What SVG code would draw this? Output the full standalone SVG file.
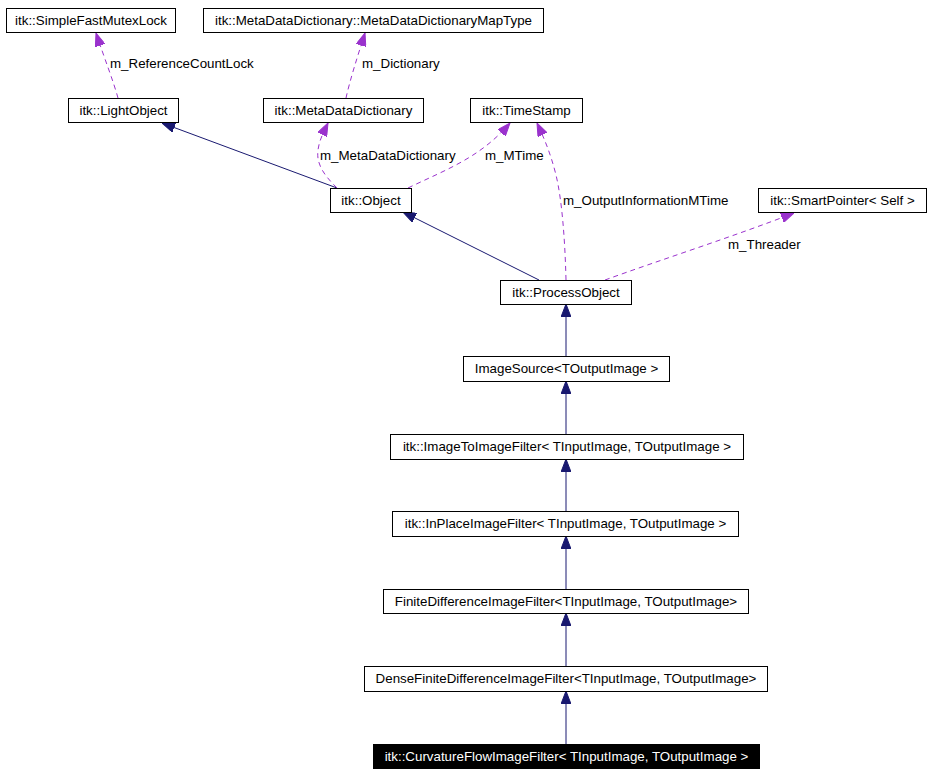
<svg xmlns="http://www.w3.org/2000/svg" width="931" height="773" viewBox="0 0 931 773">
<style>
.n rect{fill:#fff;stroke:#000;stroke-width:1}
.n text{font-family:"Liberation Sans",Arial,sans-serif;font-size:13.33px;fill:#000;text-anchor:middle}
.cur rect{fill:#000;stroke:#000}
.cur text{fill:#fff}
.inh{fill:none;stroke:#191970;stroke-width:1;marker-end:url(#an)}
.use{fill:none;stroke:#9a32cd;stroke-width:1;stroke-dasharray:5,4;marker-end:url(#ap)}
.lbl{font-family:"Liberation Sans",Arial,sans-serif;font-size:13.33px;fill:#000}
</style>
<defs>
<marker id="an" viewBox="0 0 13 10" markerWidth="13" markerHeight="10" refX="13" refY="5" orient="auto" markerUnits="userSpaceOnUse"><path d="M0,0 L13,5 L0,10 z" fill="#191970" stroke="#191970"/></marker>
<marker id="ap" viewBox="0 0 13 10" markerWidth="13" markerHeight="10" refX="13" refY="5" orient="auto" markerUnits="userSpaceOnUse"><path d="M0,0 L13,5 L0,10 z" fill="#9a32cd" stroke="#9a32cd"/></marker>
</defs>
<g id="edges">
<path class="use" d="M118,98 C113,80 105,60 96,33"/>
<path class="use" d="M346,98 C350,80 357,58 365,33"/>
<path class="inh" d="M337,188 L162,123"/>
<path class="use" d="M337,188 C325,176 316,165 318,150 C319,142 322,135 328,123"/>
<path class="use" d="M408,188 C445,170 480,158 510,123"/>
<path class="use" d="M566,280 C565,240 562,200 556,175 C551,155 545,140 537,123"/>
<path class="inh" d="M539,280 L403,212"/>
<path class="use" d="M605,280 C660,260 735,236 794,213"/>
<path class="inh" d="M566,356 L566,304"/>
<path class="inh" d="M566,434 L566,381"/>
<path class="inh" d="M566,511 L566,459"/>
<path class="inh" d="M566,589 L566,536"/>
<path class="inh" d="M566,666 L566,613"/>
<path class="inh" d="M566,744 L566,691"/>
<text class="lbl" x="110" y="68">m_ReferenceCountLock</text>
<text class="lbl" x="362" y="68">m_Dictionary</text>
<text class="lbl" x="320" y="160">m_MetaDataDictionary</text>
<text class="lbl" x="485" y="160">m_MTime</text>
<text class="lbl" x="563" y="205">m_OutputInformationMTime</text>
<text class="lbl" x="728" y="249">m_Threader</text>
</g>
<g id="n_sfml" class="n"><rect x="6.5" y="8.5" width="169" height="24"/><text x="91" y="25">itk::SimpleFastMutexLock</text></g>
<g id="n_maptype" class="n"><rect x="203.5" y="8.5" width="340" height="24"/><text x="373.5" y="25">itk::MetaDataDictionary::MetaDataDictionaryMapType</text></g>
<g id="n_lightobject" class="n"><rect x="68.5" y="98.5" width="110" height="24"/><text x="123.5" y="115">itk::LightObject</text></g>
<g id="n_mdd" class="n"><rect x="263.5" y="98.5" width="160" height="24"/><text x="343.5" y="115">itk::MetaDataDictionary</text></g>
<g id="n_timestamp" class="n"><rect x="470.5" y="98.5" width="112" height="24"/><text x="526.5" y="115">itk::TimeStamp</text></g>
<g id="n_object" class="n"><rect x="330.5" y="188.5" width="81" height="24"/><text x="371" y="205">itk::Object</text></g>
<g id="n_smartpointer" class="n"><rect x="758.5" y="188.5" width="168" height="24"/><text x="842.5" y="205">itk::SmartPointer&lt; Self &gt;</text></g>
<g id="n_processobject" class="n"><rect x="500.5" y="280.5" width="131" height="24"/><text x="566" y="297">itk::ProcessObject</text></g>
<g id="n_imagesource" class="n"><rect x="463.5" y="356.5" width="206" height="25"/><text x="566.5" y="373">ImageSource&lt;TOutputImage &gt;</text></g>
<g id="n_imagetoimage" class="n"><rect x="390.5" y="434.5" width="353" height="25"/><text x="567" y="451">itk::ImageToImageFilter&lt; TInputImage, TOutputImage &gt;</text></g>
<g id="n_inplace" class="n"><rect x="392.5" y="511.5" width="346" height="25"/><text x="565.5" y="528">itk::InPlaceImageFilter&lt; TInputImage, TOutputImage &gt;</text></g>
<g id="n_finitediff" class="n"><rect x="383.5" y="589.5" width="365" height="24"/><text x="566" y="606">FiniteDifferenceImageFilter&lt;TInputImage, TOutputImage&gt;</text></g>
<g id="n_densefinitediff" class="n"><rect x="364.5" y="666.5" width="403" height="25"/><text x="566" y="683">DenseFiniteDifferenceImageFilter&lt;TInputImage, TOutputImage&gt;</text></g>
<g id="n_curvatureflow" class="n cur"><rect x="373.5" y="744.5" width="386" height="24"/><text x="566.5" y="761">itk::CurvatureFlowImageFilter&lt; TInputImage, TOutputImage &gt;</text></g>
</svg>
